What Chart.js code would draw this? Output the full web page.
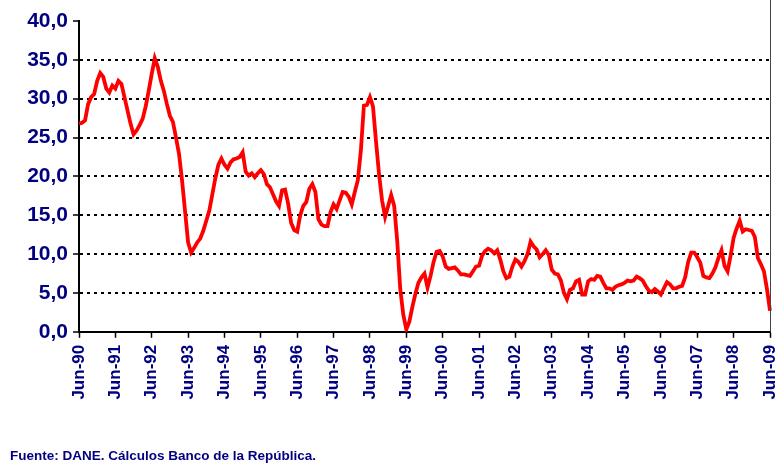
<!DOCTYPE html>
<html>
<head>
<meta charset="utf-8">
<script src="https://cdn.jsdelivr.net/npm/chart.js@4"></script>
<style>
  html, body { margin: 0; padding: 0; background: #fff; }
</style>
</head>
<body>
<canvas id="chart-inflacion" width="779" height="467"></canvas>
<script>
// months shown on the axis (Jun-90 ... Jun-09)
const meses = ['Jun','Jul','Ago','Sep','Oct','Nov','Dic','Ene','Feb','Mar','Abr','May'];
const anioInicio = 1990, anioFin = 2009;
const tickLabels = ['Jun-90','Jun-91','Jun-92','Jun-93','Jun-94','Jun-95','Jun-96','Jun-97','Jun-98','Jun-99',
                    'Jun-00','Jun-01','Jun-02','Jun-03','Jun-04','Jun-05','Jun-06','Jun-07','Jun-08','Jun-09'];

// annual variation, one row per year Jun..May
const inflacion = [
  26.8, 26.9, 27.2, 29.3, 30.2, 30.6, 32.3, 33.3, 32.8, 31.3, 30.8, 31.7,
  31.3, 32.3, 31.9, 30.2, 28.5, 26.8, 25.4, 25.9, 26.6, 27.4, 29.0, 31.0,
  33.2, 35.2, 34.1, 32.3, 31.0, 29.3, 27.8, 27.0, 25.0, 22.9, 19.5, 15.5,
  11.5, 10.2, 10.8, 11.5, 12.0, 13.0, 14.3, 15.6, 17.7, 19.8, 21.5, 22.3,
  21.5, 21.0, 21.8, 22.2, 22.3, 22.5, 23.1, 20.6, 20.1, 20.4, 19.9, 20.4,
  20.8, 20.3, 19.0, 18.6, 17.7, 16.8, 16.2, 18.2, 18.3, 16.5, 14.0, 13.1,
  12.9, 15.0, 16.2, 16.7, 18.4, 19.0, 18.0, 14.5, 13.8, 13.6, 13.6, 15.4,
  16.4, 15.8, 16.9, 18.0, 17.9, 17.4, 16.4, 18.0, 19.5, 23.3, 29.1, 29.2,
  30.2, 29.0, 24.5, 20.3, 16.9, 14.8, 16.2, 17.6, 16.2, 11.7, 5.5, 2.2,
  0.3, 1.3, 3.2, 4.9, 6.3, 7.0, 7.5, 5.7, 7.2, 9.0, 10.3, 10.4,
  9.7, 8.4, 8.1, 8.2, 8.3, 7.9, 7.4, 7.4, 7.3, 7.2, 7.8, 8.4,
  8.5, 9.8, 10.4, 10.7, 10.5, 10.1, 10.5, 9.3, 7.8, 6.9, 7.1, 8.4,
  9.3, 9.0, 8.4, 9.1, 10.0, 11.6, 11.0, 10.6, 9.6, 10.0, 10.5, 9.9,
  8.0, 7.5, 7.4, 6.6, 5.0, 4.2, 5.4, 5.6, 6.5, 6.7, 4.8, 4.8,
  6.5, 6.8, 6.7, 7.2, 7.1, 6.3, 5.6, 5.6, 5.4, 5.8, 6.0, 6.1,
  6.3, 6.6, 6.5, 6.6, 7.1, 6.9, 6.6, 5.9, 5.3, 5.1, 5.5, 5.2,
  4.8, 5.6, 6.4, 6.1, 5.6, 5.6, 5.8, 5.9, 7.0, 9.0, 10.2, 10.2,
  9.6, 8.9, 7.2, 7.0, 6.9, 7.5, 8.3, 9.5, 10.5, 8.5, 7.8, 9.8,
  12.1, 13.3, 14.3, 12.9, 13.2, 13.1, 13.0, 12.2, 9.5, 8.7, 7.8, 5.5,
  2.7
];

const yMin = 0, yMax = 40, yPaso = 5;
const fuente = 'Fuente: DANE. Cálculos Banco de la República.';

// build month categories
let categorias = [];
for (let a = anioInicio; a < anioFin; a++) {
    meses.forEach((m, i) => {
        let anio = i < 7 ? a : a + 1;
        categorias.push(m + '-' + String(anio).slice(2));
    });
}
categorias.push(tickLabels[tickLabels.length - 1]);

const azul = '#000080';
const fuenteTxt = "'Liberation Sans', Arial, sans-serif";

// right border of the plot
const bordeDerecho = {
    id: 'bordeDerecho',
    afterDraw(chart) {
        const {ctx, chartArea} = chart;
        ctx.save();
        ctx.strokeStyle = '#444';
        ctx.lineWidth = 1;
        ctx.beginPath();
        ctx.moveTo(chartArea.right + 0.5, 0);
        ctx.lineTo(chartArea.right + 0.5, chartArea.bottom);
        ctx.stroke();
        ctx.restore();
    }
};

new Chart(document.getElementById('chart-inflacion'), {
    type: 'line',
    data: {
        labels: categorias,
        datasets: [{
            label: 'Inflación',
            data: inflacion,
            borderColor: '#ff0000',
            borderWidth: 3.8,
            pointRadius: 0,
            tension: 0,
            fill: false
        }]
    },
    options: {
        responsive: false,
        animation: false,
        devicePixelRatio: 1,
        layout: { padding: { left: 10, right: 9, top: 21, bottom: 0 } },
        plugins: {
            legend: { display: false },
            tooltip: { enabled: false },
            title: {
                display: true,
                position: 'bottom',
                align: 'start',
                text: fuente,
                color: azul,
                font: { family: fuenteTxt, size: 13.5, weight: 'bold' },
                padding: { top: 1, bottom: 3 }
            }
        },
        scales: {
            x: {
                offset: false,
                afterFit: s => { s.height = 115; s.paddingLeft = 0; s.paddingRight = 0; },
                grid: {
                    drawOnChartArea: false,
                    drawTicks: true,
                    tickLength: 6,
                    tickColor: '#000',
                    tickWidth: 1.5
                },
                border: { display: true, color: '#000', width: 2 },
                ticks: {
                    autoSkip: false,
                    minRotation: 90,
                    maxRotation: 90,
                    padding: 7,
                    color: azul,
                    font: { family: fuenteTxt, size: 17, weight: 'bold' },
                    callback: function(val, i) {
                        return i % 12 === 0 ? tickLabels[i / 12] : null;
                    }
                }
            },
            y: {
                min: yMin,
                max: yMax,
                afterFit: s => { s.width = 69; },
                grid: {
                    color: ctx => (ctx.tick && ctx.tick.value === yMax) ? 'rgba(0,0,0,0)' : '#000',
                    lineWidth: 2,
                    drawTicks: true,
                    tickLength: 6,
                    tickColor: '#000',
                    tickWidth: 1.5
                },
                border: { display: true, color: '#000', width: 2, dash: [3, 4] },
                ticks: {
                    stepSize: yPaso,
                    padding: 5,
                    color: azul,
                    font: { family: fuenteTxt, size: 21, weight: 'bold' },
                    callback: v => v.toFixed(1).replace('.', ',')
                }
            }
        }
    },
    plugins: [bordeDerecho]
});
</script>
</body>
</html>
